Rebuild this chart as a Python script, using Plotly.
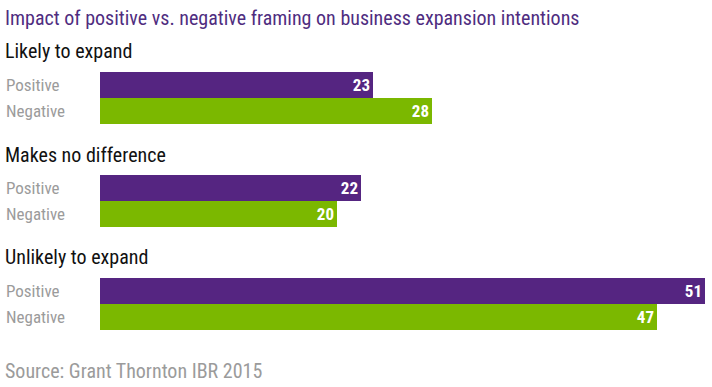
import plotly.graph_objects as go
from plotly.subplots import make_subplots

title = "Impact of positive vs. negative framing on business expansion intentions"
source = "Source: Grant Thornton IBR 2015"
groups = ["Likely to expand", "Makes no difference", "Unlikely to expand"]
series = ["Positive", "Negative"]
positive = [23, 22, 51]
negative = [28, 20, 47]

PURPLE = "#552581"
GREEN = "#7bb800"
TITLE_C = "#4f2d7f"
GRAY = "#9b9b9b"
FONT = "Liberation Sans Narrow, Arial Narrow, Roboto Condensed, DejaVu Sans Condensed, sans-serif"

W, H = 712, 387
fig = make_subplots(rows=3, cols=1)

def py(px):
    return 1 - px / H

row_px = [(72, 124), (175, 227), (278, 330)]
heading_px = [51, 155, 257]

for i, g in enumerate(groups):
    r = i + 1
    vals = [positive[i], negative[i]]
    fig.add_trace(go.Bar(
        y=series, x=vals, orientation="h",
        marker=dict(color=[PURPLE, GREEN], line=dict(width=0)),
        text=[str(v) for v in vals], textposition="inside",
        insidetextanchor="end",
        textfont=dict(color="white", size=17, family=FONT, weight="bold"),
        showlegend=False, hoverinfo="skip",
    ), row=r, col=1)
    top, bot = row_px[i]
    yk = "yaxis" if r == 1 else f"yaxis{r}"
    xk = "xaxis" if r == 1 else f"xaxis{r}"
    fig.layout[yk].update(domain=[py(bot), py(top)], autorange="reversed",
                          visible=False, type="category")
    fig.layout[xk].update(domain=[100 / W, 1], range=[0, 51.6], visible=False)
    yref = "y" if r == 1 else f"y{r}"
    for s in series:
        fig.add_annotation(text=s, x=0.006, xref="paper", xanchor="left",
                           y=s, yref=yref, yanchor="middle", showarrow=False,
                           font=dict(size=17, color=GRAY, family=FONT))
    fig.add_annotation(text=g, x=0.004, xref="paper", xanchor="left",
                       y=py(heading_px[i]), yref="paper", yanchor="middle",
                       showarrow=False, font=dict(size=20, color="#111111", family=FONT))

fig.add_annotation(text=title, x=0.004, xref="paper", xanchor="left",
                   y=py(18), yref="paper", yanchor="middle", showarrow=False,
                   font=dict(size=20, color=TITLE_C, family=FONT))
fig.add_annotation(text=source, x=0.004, xref="paper", xanchor="left",
                   y=py(371), yref="paper", yanchor="middle", showarrow=False,
                   font=dict(size=20, color=GRAY, family=FONT))

fig.update_layout(width=W, height=H, margin=dict(l=0, r=0, t=0, b=0),
                  bargap=0, plot_bgcolor="white", paper_bgcolor="white")
fig.write_html("out.html", config={"displayModeBar": False},
               post_script="document.body.style.margin='0';document.body.style.overflow='hidden';")
